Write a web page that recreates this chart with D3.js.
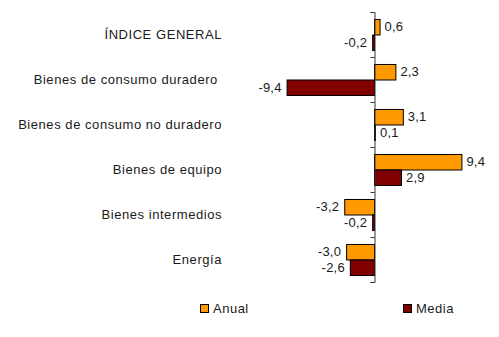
<!DOCTYPE html>
<html>
<head>
<meta charset="utf-8">
<script src="https://cdn.jsdelivr.net/npm/d3@7"></script>
<style>
  body { margin: 0; background: #fff; }
  text { font-family: "Liberation Sans", Arial, sans-serif; fill: #1a1a1a; }
</style>
</head>
<body>
<div id="chart"></div>
<script>
/* Variación de índices por destino económico: anual y media */

var categories = ['ÍNDICE GENERAL', 'Bienes de consumo duradero ', 'Bienes de consumo no duradero',
  'Bienes de equipo', 'Bienes intermedios', 'Energía'];
var series = ['Anual', 'Media'];
var anual = [0.6, 2.3, 3.1, 9.4, -3.2, -3.0];
var media = [-0.2, -9.4, 0.1, 2.9, -0.2, -2.6];
var colors = ['#ff9900', '#800000'];

var width = 499;
var height = 337;

var svg = d3.select('#chart').append('svg')
  .attr('width', width)
  .attr('height', height);

var x = d3.scaleLinear().domain([-10, 10]).range([281, 467]);
var y = d3.scaleBand().domain(categories).range([12, 282]);
var ySub = d3.scaleBand().domain(series).range([0, y.bandwidth()]).paddingOuter(0.45);
var color = d3.scaleOrdinal().domain(series).range(colors);

var rows = categories.map(function(c, i) {
  return { cat: c, values: [
    { key: 'Anual', value: anual[i] },
    { key: 'Media', value: media[i] }
  ] };
});

function fmt(v) {
  return d3.format('.1f')(v).replace('.', ',').replace('−', '-');
}

var groups = svg.selectAll('.grp').data(rows).enter()
  .append('g')
  .attr('class', 'grp')
  .attr('transform', function(d) { return 'translate(0,' + y(d.cat) + ')'; });

groups.selectAll('rect').data(function(d) { return d.values; }).enter()
  .append('rect')
  .attr('x', function(d) { return Math.min(x(0), x(d.value)) + 0.5; })
  .attr('y', function(d) { return ySub(d.key) + 0.5; })
  .attr('width', function(d) { return Math.abs(x(d.value) - x(0)); })
  .attr('height', ySub.bandwidth())
  .style('fill', function(d) { return color(d.key); })
  .style('stroke', '#000')
  .style('stroke-width', 1);

groups.selectAll('.val').data(function(d) { return d.values; }).enter()
  .append('text')
  .attr('class', 'val')
  .attr('x', function(d) {
    return d.value >= 0 ? Math.max(x(d.value), x(0) + 1) + 5 : x(d.value) - 5;
  })
  .attr('y', function(d) { return ySub(d.key) + ySub.bandwidth() / 2; })
  .attr('dy', '0.35em')
  .attr('text-anchor', function(d) { return d.value >= 0 ? 'start' : 'end'; })
  .style('font-size', '13px')
  .style('letter-spacing', '0.2px')
  .text(function(d) { return fmt(d.value); });

// category names to the left of the plot
svg.selectAll('.cat').data(categories).enter()
  .append('text')
  .attr('class', 'cat')
  .attr('x', 222)
  .attr('y', function(d) { return y(d) + y.bandwidth() / 2; })
  .attr('dy', '0.35em')
  .attr('text-anchor', 'end')
  .style('font-size', '13px')
  .style('letter-spacing', '0.55px')
  .style('white-space', 'pre')
  .text(function(d) { return d; });

// vertical axis at zero with ticks between categories
var yEdge = d3.scaleLinear().domain([0, categories.length]).range([12, 282]);
var axis = svg.append('g')
  .attr('transform', 'translate(' + (x(0) + 0.5) + ',0)')
  .call(d3.axisLeft(yEdge).ticks(categories.length).tickSize(4).tickSizeOuter(4).tickFormat(''));
axis.selectAll('path, line').style('stroke', '#333');

// legend
var legendX = [200, 403];
var legend = svg.selectAll('.leg').data(series).enter()
  .append('g')
  .attr('class', 'leg')
  .attr('transform', function(d, i) { return 'translate(' + legendX[i] + ',304)'; });
legend.append('rect')
  .attr('x', 0.5).attr('y', 0.5)
  .attr('width', 8).attr('height', 8)
  .style('fill', function(d) { return color(d); })
  .style('stroke', '#000');
legend.append('text')
  .attr('x', 13).attr('y', 4.5)
  .attr('dy', '0.35em')
  .style('font-size', '13px')
  .style('letter-spacing', '0.5px')
  .text(function(d) { return d; });
</script>
</body>
</html>
